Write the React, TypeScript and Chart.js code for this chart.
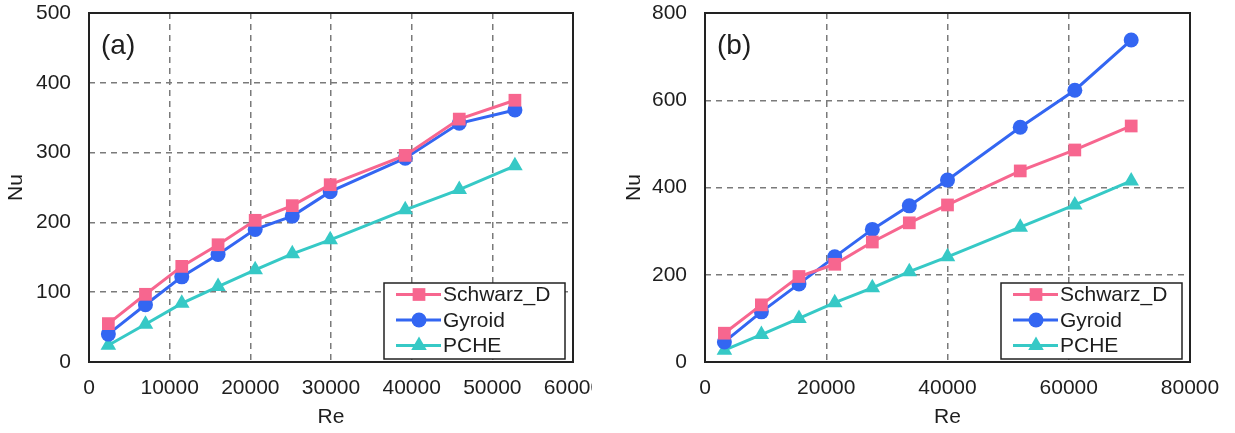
import React, { useEffect, useRef } from "react";
import { Chart, registerables } from "chart.js";
Chart.register(...registerables);

const FONT = "'Liberation Sans', Arial, sans-serif";
const TEXT = "#1e1e1e";

const seriesNames = ["Schwarz_D", "Gyroid", "PCHE"];
const seriesColors = ["#F7668F", "#3366F2", "#36C9C6"];
const seriesStyles = ["rect", "circle", "triangle"];
const seriesRadius = [9, 7.5, 9];

// Panel (a)
const reA = [2400, 7000, 11500, 16000, 20600, 25200, 29900, 39200, 45900, 52800];
const nuA_schwarz = [55, 97, 137, 168, 203, 224, 254, 296, 348, 375];
const nuA_gyroid = [40, 82, 122, 154, 190, 209, 244, 292, 342, 361];
const nuA_pche = [24, 54, 84, 108, 132, 155, 175, 218, 247, 281];
const xTicksA = [0, 10000, 20000, 30000, 40000, 50000, 60000];
const yTicksA = [0, 100, 200, 300, 400, 500];

// Panel (b)
const reB = [3200, 9300, 15500, 21400, 27600, 33700, 40000, 52000, 61000, 70300];
const nuB_schwarz = [66, 131, 196, 224, 275, 319, 360, 438, 486, 541];
const nuB_gyroid = [46, 115, 179, 241, 304, 358, 417, 538, 623, 738];
const nuB_pche = [27, 63, 100, 136, 170, 207, 241, 309, 360, 415];
const xTicksB = [0, 20000, 40000, 60000, 80000];
const yTicksB = [0, 200, 400, 600, 800];

function drawMarker(ctx: CanvasRenderingContext2D, style: string, x: number, y: number, r: number) {
  ctx.beginPath();
  if (style === "rect") {
    const s = Math.SQRT1_2 * r;
    ctx.rect(x - s, y - s, 2 * s, 2 * s);
  } else if (style === "circle") {
    ctx.arc(x, y, r, 0, Math.PI * 2);
  } else {
    let a = 0;
    ctx.moveTo(x + Math.sin(a) * r, y - Math.cos(a) * r);
    a += (2 * Math.PI) / 3;
    ctx.lineTo(x + Math.sin(a) * r, y - Math.cos(a) * r);
    a += (2 * Math.PI) / 3;
    ctx.lineTo(x + Math.sin(a) * r, y - Math.cos(a) * r);
    ctx.closePath();
  }
  ctx.fill();
}

const framePlugin = {
  id: "frame",
  beforeDatasetsDraw(chart: any) {
    const { ctx, chartArea } = chart;
    ctx.save();
    ctx.strokeStyle = "#222";
    ctx.lineWidth = 2;
    ctx.strokeRect(chartArea.left, chartArea.top, chartArea.right - chartArea.left, chartArea.bottom - chartArea.top);
    const label = chart.options.plugins.panelLabel?.text;
    if (label) {
      ctx.fillStyle = TEXT;
      ctx.font = `28px ${FONT}`;
      ctx.textAlign = "left";
      ctx.textBaseline = "middle";
      ctx.fillText(label, chartArea.left + 12, chartArea.top + 33);
    }
    ctx.restore();
  },
};

const legendPlugin = {
  id: "boxLegend",
  afterDatasetsDraw(chart: any) {
    const { ctx, chartArea } = chart;
    const w = 181;
    const h = 76;
    const x0 = chartArea.right - 8 - w;
    const y0 = chartArea.bottom - 3 - h;
    ctx.save();
    ctx.fillStyle = "#fff";
    ctx.fillRect(x0, y0, w, h);
    ctx.strokeStyle = "#222";
    ctx.lineWidth = 1.5;
    ctx.strokeRect(x0, y0, w, h);
    chart.data.datasets.forEach((ds: any, i: number) => {
      const y = y0 + 11.5 + i * 25.5;
      ctx.strokeStyle = ds.borderColor;
      ctx.lineWidth = 3;
      ctx.beginPath();
      ctx.moveTo(x0 + 12, y);
      ctx.lineTo(x0 + 57, y);
      ctx.stroke();
      ctx.fillStyle = ds.backgroundColor;
      drawMarker(ctx, ds.pointStyle, x0 + 35, y, ds.pointRadius);
      ctx.fillStyle = TEXT;
      ctx.font = `21px ${FONT}`;
      ctx.textAlign = "left";
      ctx.textBaseline = "middle";
      ctx.fillText(ds.label, x0 + 59, y + 1);
    });
    ctx.restore();
  },
};

type PanelProps = {
  left: number;
  width: number;
  yAxisWidth: number;
  padRight: number;
  label: string;
  re: number[];
  nus: number[][];
  xTicks: number[];
  yTicks: number[];
};

function Panel(props: PanelProps) {
  const ref = useRef<HTMLCanvasElement | null>(null);
  useEffect(() => {
    const canvas = ref.current!;
    const xMax = props.xTicks[props.xTicks.length - 1];
    const yMax = props.yTicks[props.yTicks.length - 1];
    const gridColor = (c: any, max: number) =>
      c.tick && (c.tick.value === 0 || c.tick.value === max) ? "rgba(0,0,0,0)" : "#7a7a7a";
    const chart = new Chart(canvas, {
      type: "line",
      data: {
        datasets: props.nus.map((nu, i) => ({
          label: seriesNames[i],
          data: props.re.map((x, j) => ({ x, y: nu[j] })),
          borderColor: seriesColors[i],
          backgroundColor: seriesColors[i],
          borderWidth: 3,
          pointStyle: seriesStyles[i] as any,
          pointRadius: seriesRadius[i],
          pointBorderWidth: 0,
          tension: 0,
          clip: false as any,
        })),
      },
      options: {
        animation: false,
        responsive: false,
        devicePixelRatio: 1,
        layout: { padding: { top: 13, right: props.padRight, bottom: 0, left: 0 } },
        plugins: {
          legend: { display: false },
          tooltip: { enabled: false },
          panelLabel: { text: props.label },
        } as any,
        scales: {
          x: {
            type: "linear",
            min: 0,
            max: xMax,
            afterBuildTicks: (s: any) => {
              s.ticks = props.xTicks.map((v) => ({ value: v }));
            },
            afterFit: (s: any) => {
              s.height = 71;
              s.paddingLeft = 0;
              s.paddingRight = 0;
            },
            grid: {
              color: (c: any) => gridColor(c, xMax),
              lineWidth: 1.5,
              drawTicks: false,
            },
            border: { display: false, dash: [6, 5] },
            ticks: {
              padding: 14,
              color: TEXT,
              font: { size: 21, family: FONT },
              maxRotation: 0,
              autoSkip: false,
              callback: (v: any) => String(v),
            },
            title: {
              display: true,
              text: "Re",
              color: TEXT,
              font: { size: 21, family: FONT },
              padding: { top: 0, bottom: 3 },
            },
          },
          y: {
            type: "linear",
            min: 0,
            max: yMax,
            afterBuildTicks: (s: any) => {
              s.ticks = props.yTicks.map((v) => ({ value: v }));
            },
            afterFit: (s: any) => {
              s.width = props.yAxisWidth;
              s.paddingTop = 0;
              s.paddingBottom = 0;
            },
            grid: {
              color: (c: any) => gridColor(c, yMax),
              lineWidth: 1.5,
              drawTicks: false,
            },
            border: { display: false, dash: [6, 5] },
            ticks: {
              padding: 18,
              color: TEXT,
              font: { size: 21, family: FONT },
              autoSkip: false,
              callback: (v: any) => String(v),
            },
            title: {
              display: true,
              text: "Nu",
              color: TEXT,
              font: { size: 21, family: FONT },
              padding: { top: 4, bottom: 0 },
            },
          },
        },
      },
      plugins: [framePlugin, legendPlugin],
    });
    return () => chart.destroy();
  }, []);
  return (
    <canvas
      ref={ref}
      width={props.width}
      height={433}
      style={{ position: "absolute", left: props.left, top: 0, width: props.width, height: 433 }}
    />
  );
}

export default function App() {
  return (
    <div style={{ position: "fixed", left: 0, top: 0, width: 1235, height: 433, background: "#fff", overflow: "hidden" }}>
      <Panel
        left={0}
        width={592}
        yAxisWidth={89}
        padRight={19}
        label="(a)"
        re={reA}
        nus={[nuA_schwarz, nuA_gyroid, nuA_pche]}
        xTicks={xTicksA}
        yTicks={yTicksA}
      />
      <Panel
        left={618}
        width={617}
        yAxisWidth={87}
        padRight={45}
        label="(b)"
        re={reB}
        nus={[nuB_schwarz, nuB_gyroid, nuB_pche]}
        xTicks={xTicksB}
        yTicks={yTicksB}
      />
    </div>
  );
}
